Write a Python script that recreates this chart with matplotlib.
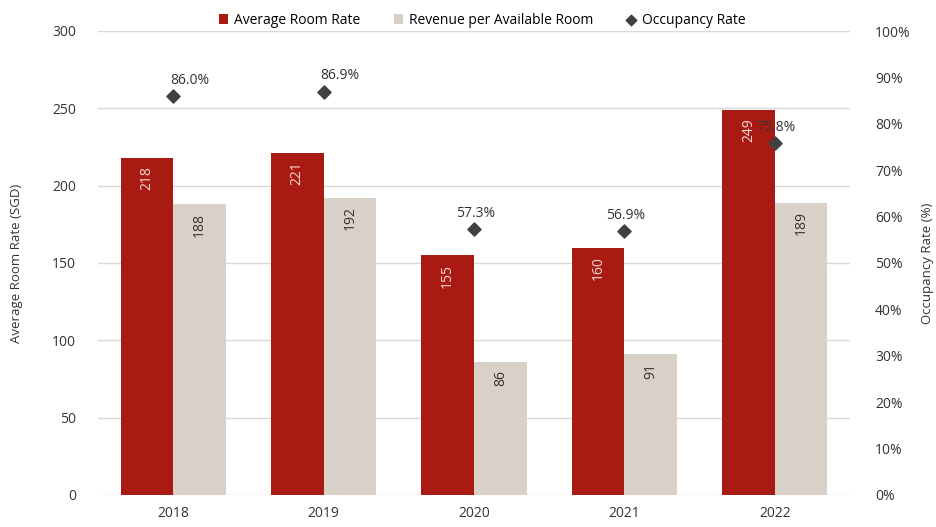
import matplotlib.pyplot as plt
import numpy as np

years = ['2018', '2019', '2020', '2021', '2022']
avg_room_rate = [218, 221, 155, 160, 249]
revpar = [188, 192, 86, 91, 189]
occupancy = [86.0, 86.9, 57.3, 56.9, 75.8]

RED = '#A91B12'
BEIGE = '#D9D0C7'
DARK = '#404040'

plt.rcParams['font.family'] = ['Open Sans', 'DejaVu Sans']
plt.rcParams['font.size'] = 10

fig = plt.figure(figsize=(9.36, 5.27), dpi=100)
ax = fig.add_axes([98 / 936, 32 / 527, 752 / 936, 464 / 527])
ax2 = ax.twinx()

x = np.arange(len(years))
w = 0.35
b1 = ax.bar(x - w / 2, avg_room_rate, w, color=RED, label='Average Room Rate', zorder=2)
b2 = ax.bar(x + w / 2, revpar, w, color=BEIGE, label='Revenue per Available Room', zorder=2)

for rect, v in zip(b1, avg_room_rate):
    ax.annotate(str(v), (rect.get_x() + rect.get_width() / 2, rect.get_height()),
                xytext=(0, -6), textcoords='offset points', rotation=90,
                ha='center', va='top', color='#F6D9D6')
for rect, v in zip(b2, revpar):
    ax.annotate(str(v), (rect.get_x() + rect.get_width() / 2, rect.get_height()),
                xytext=(0, -6), textcoords='offset points', rotation=90,
                ha='center', va='top', color='#333333')

ax.set_ylim(0, 300)
ax.set_yticks(range(0, 301, 50))
ax.set_xlim(-0.5, len(years) - 0.5)
ax.set_xticks(x)
ax.set_xticklabels(years)
ax.grid(axis='y', color='#D9D9D9', linewidth=1, zorder=0)
ax.set_axisbelow(True)
ax.set_ylabel('Average Room Rate (SGD)', color='#333333', fontsize=9.5)
ax.yaxis.set_label_coords(-0.1, 0.5)

ln = ax2.scatter(x, occupancy, marker='D', s=45, color=DARK, label='Occupancy Rate', zorder=3)
ax2.set_ylim(0, 100)
ax2.set_yticks(range(0, 101, 10))
ax2.set_yticklabels([f'{t}%' for t in range(0, 101, 10)])
ax2.set_ylabel('Occupancy Rate (%)', color='#333333', fontsize=9.5)
ax2.yaxis.set_label_coords(1.095, 0.5)

label_dx = [12, 12, 1, 1, 1]
for xi, v, dx in zip(x, occupancy, label_dx):
    ax2.annotate(f'{v:.1f}%', (xi, v), xytext=(dx, 6), textcoords='offset points',
                 ha='center', va='bottom', color='#333333')

for a in (ax, ax2):
    for s in a.spines.values():
        s.set_visible(False)
    a.tick_params(length=0, colors='#333333', labelsize=10)
ax.tick_params(axis='y', pad=16)
ax.tick_params(axis='x', pad=8)
ax2.tick_params(axis='y', pad=18)

handles = [b1, b2, ln]
fig.legend(handles, [h.get_label() for h in handles], loc='upper center',
           bbox_to_anchor=(0.515, 1.0), ncol=3, frameon=False, fontsize=10,
           handlelength=0.7, handleheight=0.7, handletextpad=0.4, columnspacing=2.4,
           markerscale=0.8)

fig.savefig('out.png', dpi=100)
